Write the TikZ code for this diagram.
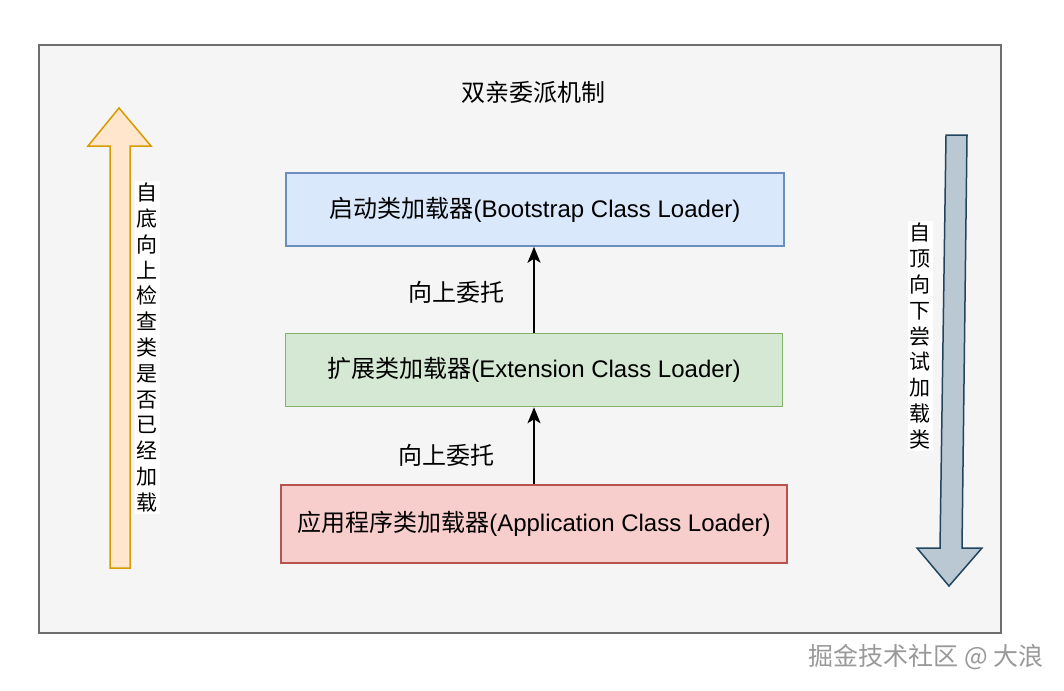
\documentclass[tikz,border=0pt]{standalone}
\usepackage{fontspec}
\setmainfont{Liberation Sans}
\newfontfamily\cjk{Noto Sans CJK SC}
\usetikzlibrary{arrows.meta}

\definecolor{bootfill}{HTML}{DAE8FC}
\definecolor{bootline}{HTML}{6C8EBF}
\definecolor{extfill}{HTML}{D5E8D4}
\definecolor{extline}{HTML}{82B366}
\definecolor{appfill}{HTML}{F8CECC}
\definecolor{appline}{HTML}{B85450}
\definecolor{upfill}{HTML}{FFE6CC}
\definecolor{upline}{HTML}{D79B00}
\definecolor{downfill}{HTML}{BAC8D3}
\definecolor{downline}{HTML}{23445D}
\definecolor{panel}{HTML}{F5F5F5}
\definecolor{panelline}{HTML}{6E6E6E}

\tikzset{
    loader/.style={draw, line width=1.5pt, inner sep=0pt,
        minimum height=73pt, font=\fontsize{24}{28}\selectfont},
    flow/.style={-{Stealth[length=16pt, width=13pt, inset=4pt]}, line width=1.6pt},
    vtext/.style={fill=white, inner sep=2pt, align=center,
        font=\cjk\fontsize{21}{25.8}\selectfont},
}

\begin{document}
\begin{tikzpicture}[x=1pt, y=-1pt]
    % 画布
    \fill[white] (0,0) rectangle (1064,690);
    \useasboundingbox (0,0) rectangle (1064,690);

    % 外框与标题
    \draw[panelline, fill=panel, line width=1.8pt] (39,45) rectangle (1001,633);
    \node (title) at (533,92) {\cjk\fontsize{24}{28}\selectfont 双亲委派机制};

    % 三个类加载器
    \node[loader, draw=bootline, fill=bootfill, minimum width=498pt] (boot) at (535,209.5)
        {{\cjk 启动类加载器}(Bootstrap Class Loader)};
    \node[loader, draw=extline, fill=extfill, minimum width=497pt] (ext) at (534,370)
        {{\cjk 扩展类加载器}(Extension Class Loader)};
    \node[loader, draw=appline, fill=appfill, minimum width=506pt, minimum height=78pt] (app) at (534,524)
        {{\cjk 应用程序类加载器}(Application Class Loader)};

    % 向上委托
    \draw[flow] (app.north) -- (app.north |- ext.south);
    \draw[flow] (ext.north) -- (ext.north |- boot.south);
    \node (upA) at (456,292) {\cjk\fontsize{24}{28}\selectfont 向上委托};
    \node (upB) at (446,455) {\cjk\fontsize{24}{28}\selectfont 向上委托};

    % 左侧向上的大箭头
    \draw[upline, fill=upfill, line width=1.5pt]
        (110,568) -- (110,146) -- (88,146) -- (119,108) -- (151,146)
        -- (130,146) -- (130,568) -- cycle;
    \node[vtext] (checkup) at (147,347.5)
        {自\\底\\向\\上\\检\\查\\类\\是\\否\\已\\经\\加\\载};

    % 右侧向下的大箭头
    \draw[downline, fill=downfill, line width=1.5pt]
        (946,135) -- (967,135) -- (962,548) -- (982,548) -- (949,586)
        -- (917,548) -- (940,548) -- cycle;
    \node[vtext] (loaddown) at (920,336)
        {自\\顶\\向\\下\\尝\\试\\加\\载\\类};

    % 水印
    \node[text=gray!80] (mark) at (926,657)
        {\cjk\fontsize{25}{29}\selectfont 掘金技术社区 @ 大浪};
\end{tikzpicture}
\end{document}
